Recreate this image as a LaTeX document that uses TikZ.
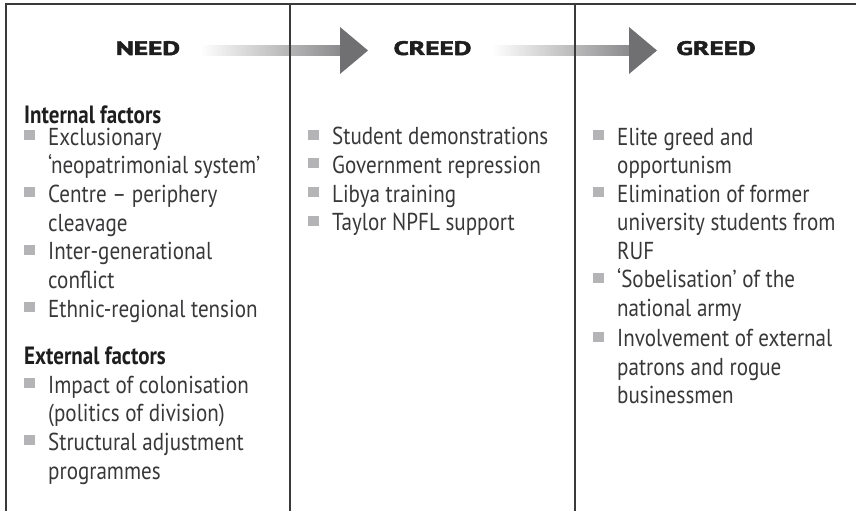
\documentclass[tikz,border=0pt]{standalone}
\usepackage{fontspec}
\setmainfont{PT Sans}[FakeStretch=0.86]
\newfontfamily\subfont{PT Sans Bold}[FakeStretch=0.84]
\newfontfamily\blackfont{PT Sans Bold}[FakeBold=2.2]
\usepackage{graphicx}
\definecolor{framec}{HTML}{3A3A3A}
\definecolor{textc}{HTML}{38383A}
\definecolor{bulc}{HTML}{B4B4B6}
\definecolor{arrc}{HTML}{707072}
\definecolor{shaftc}{HTML}{8A8A8C}
\definecolor{headc}{HTML}{1E1E1E}
\tikzset{
  body/.style={anchor=base west, inner sep=0pt, text=textc, font=\fontsize{24.5}{28}\selectfont},
  subhead/.style={anchor=base west, inner sep=0pt, text=headc, font=\fontsize{25}{28}\subfont},
  colhead/.style={anchor=base, inner sep=0pt, text=headc, font=\fontsize{19.5}{22}\blackfont},
  bul/.style={fill=bulc, minimum width=10.5pt, minimum height=10pt, inner sep=0pt, draw=none},
  frameline/.style={draw=framec, line width=2pt},
}
\newcommand\bitem[5]{\node[bul] (#1b) at (#2+5.25,#4-10) {}; \node[body] (#1) at (#3,#4) {#5};}
\newcommand\hwide[1]{\scalebox{1.4}[1]{#1}}
\begin{document}
\begin{tikzpicture}[x=1pt,y=-1pt]
\useasboundingbox (0,0) rectangle (856,511);
% arrows
\shade[left color=white, right color=shaftc] (200,45.5) rectangle (341,55.5);
\fill[arrc] (340,27) -- (368,50.5) -- (340,74) -- cycle;
\shade[left color=white, right color=shaftc] (492,45.5) rectangle (630,55.5);
\fill[arrc] (629,27) -- (657,50.5) -- (629,74) -- cycle;
% column headings
\node[colhead] (need) at (148,55) {\hwide{NEED}};
\node[colhead] (creed) at (432.5,55) {\hwide{CREED}};
\node[colhead] (greed) at (716,55) {\hwide{GREED}};
% column 1
\node[subhead] (internal) at (24,123) {Internal factors};
\bitem{a1}{24}{48}{145}{Exclusionary}
\node[body] (a1x) at (48,173.7) {‘neopatrimonial system’};
\bitem{a2}{24}{48}{202.4}{Centre – periphery}
\node[body] (a2x) at (48,231) {cleavage};
\bitem{a3}{24}{48}{259.8}{Inter-generational}
\node[body] (a3x) at (48,288.5) {conflict};
\bitem{a4}{24}{48}{317.2}{Ethnic-regional tension}
\node[subhead] (external) at (24,364) {External factors};
\bitem{a5}{24}{48}{393}{Impact of colonisation}
\node[body] (a5x) at (48,421.7) {(politics of division)};
\bitem{a6}{24}{48}{450.4}{Structural adjustment}
\node[body] (a6x) at (48,479) {programmes};
% column 2
\bitem{c1}{308}{332}{144.5}{Student demonstrations}
\bitem{c2}{308}{332}{173}{Government repression}
\bitem{c3}{308}{332}{202}{Libya training}
\bitem{c4}{308}{332}{230.5}{Taylor NPFL support}
% column 3
\bitem{g1}{593}{617}{145}{Elite greed and}
\node[body] (g1x) at (617,173.5) {opportunism};
\bitem{g2}{593}{617}{202}{Elimination of former}
\node[body] (g2x) at (617,230.5) {university students from};
\node[body] (g2y) at (617,259) {RUF};
\bitem{g3}{593}{617}{287.5}{‘Sobelisation’ of the}
\node[body] (g3x) at (617,316.5) {national army};
\bitem{g4}{593}{617}{346.5}{Involvement of external}
\node[body] (g4x) at (617,375) {patrons and rogue};
\node[body] (g4y) at (617,403.5) {businessmen};
% frame
\coordinate (tl) at (6,4.5);
\coordinate (tr) at (856,4.5);
\coordinate (bl) at (6,511);
\coordinate (d1t) at (290,4.5);
\coordinate (d1b) at (290,511);
\coordinate (d2t) at (574.5,4.5);
\coordinate (d2b) at (574.5,511);
\draw[frameline] (bl) -- (tl) -- (tr);
\draw[frameline] (d1t) -- (d1b);
\draw[frameline] (d2t) -- (d2b);
\end{tikzpicture}
\end{document}
